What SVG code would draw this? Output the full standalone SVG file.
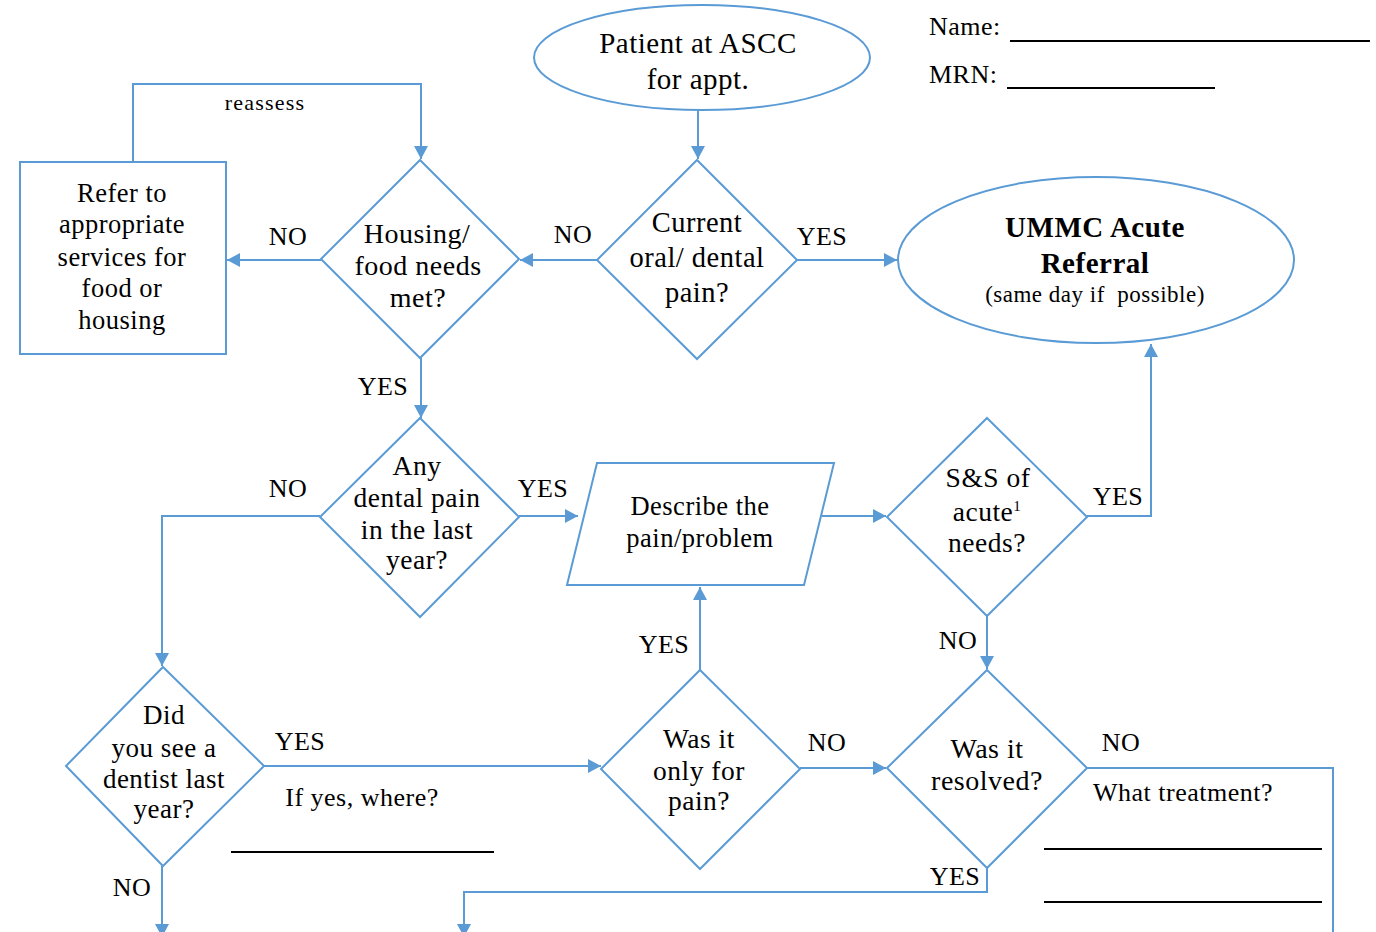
<svg xmlns="http://www.w3.org/2000/svg" width="1376" height="932" viewBox="0 0 1376 932">
<defs>
<marker id="arr" markerUnits="userSpaceOnUse" markerWidth="14" markerHeight="14" refX="13" refY="7" orient="auto">
<path d="M0,0 L13,7 L0,14 z" fill="#5B9BD5"/>
</marker>
<style>
.shape{fill:#fff;stroke:#5B9BD5;stroke-width:2}
.conn{fill:none;stroke:#5B9BD5;stroke-width:2}
text{font-family:'Liberation Serif','Times New Roman',serif}
.t{font-size:26px;letter-spacing:0.5px;fill:#000;text-anchor:middle}
.lbl{font-size:26px;letter-spacing:0.5px;fill:#000;text-anchor:middle}
.sm{font-size:22px;letter-spacing:1.2px}
.b{font-weight:bold}
.rule{stroke:#000;stroke-width:2}
</style>
</defs>
<rect width="1376" height="932" fill="#fff"/>

<g id="header">
<text class="t" x="929" y="35" style="text-anchor:start">Name:</text>
<line class="rule" x1="1010" y1="41" x2="1370" y2="41"/>
<text class="t" x="929" y="83" style="text-anchor:start">MRN:</text>
<line class="rule" x1="1007" y1="88" x2="1215" y2="88"/>
</g>

<g id="connectors">
<path class="conn" d="M698,110 V159" marker-end="url(#arr)"/>
<path class="conn" d="M597,260 H520" marker-end="url(#arr)"/>
<path class="conn" d="M321,260 H227" marker-end="url(#arr)"/>
<path class="conn" d="M796,260 H897" marker-end="url(#arr)"/>
<path class="conn" d="M133,162 V84 H421 V159" marker-end="url(#arr)"/>
<path class="conn" d="M421,358 V418" marker-end="url(#arr)"/>
<path class="conn" d="M320,516 H162 V666" marker-end="url(#arr)"/>
<path class="conn" d="M519,516 H578" marker-end="url(#arr)"/>
<path class="conn" d="M822,516 H886" marker-end="url(#arr)"/>
<path class="conn" d="M1087,516 H1151 V344" marker-end="url(#arr)"/>
<path class="conn" d="M987,616 V669" marker-end="url(#arr)"/>
<path class="conn" d="M1087,768 H1333 V940"/>
<path class="conn" d="M987,868 V892 H464 V937" marker-end="url(#arr)"/>
<path class="conn" d="M264,766 H601" marker-end="url(#arr)"/>
<path class="conn" d="M700,670 V587" marker-end="url(#arr)"/>
<path class="conn" d="M800,768 H886" marker-end="url(#arr)"/>
<path class="conn" d="M162,866 V937" marker-end="url(#arr)"/>
<text class="lbl sm" x="265" y="110">reassess</text>
<text class="lbl" x="288" y="245">NO</text>
<text class="lbl" x="573" y="243">NO</text>
<text class="lbl" x="822" y="245">YES</text>
<text class="lbl" x="383" y="395">YES</text>
<text class="lbl" x="288" y="497">NO</text>
<text class="lbl" x="543" y="497">YES</text>
<text class="lbl" x="1118" y="505">YES</text>
<text class="lbl" x="958" y="649">NO</text>
<text class="lbl" x="664" y="653">YES</text>
<text class="lbl" x="827" y="751">NO</text>
<text class="lbl" x="1121" y="751">NO</text>
<text class="lbl" x="955" y="885">YES</text>
<text class="lbl" x="300" y="750">YES</text>
<text class="lbl" x="132" y="896">NO</text>
<text class="lbl" x="362" y="806">If yes, where?</text>
<line class="rule" x1="231" y1="852" x2="494" y2="852"/>
<text class="lbl" x="1183" y="801">What treatment?</text>
<line class="rule" x1="1044" y1="849" x2="1322" y2="849"/>
<line class="rule" x1="1044" y1="902" x2="1322" y2="902"/>
</g>

<g id="start">
<ellipse class="shape" cx="702" cy="57.5" rx="168" ry="52.5"/>
<text class="t" x="698" y="53" style="font-size:29px">Patient at ASCC</text>
<text class="t" x="698" y="89" style="font-size:29px">for appt.</text>
</g>

<g id="current-pain" style="font-size:28.5px">
<polygon class="shape" points="697,160 797,260 697,359 597,260"/>
<text class="t" x="697" y="232" style="font-size:28.5px">Current</text>
<text class="t" x="697" y="267" style="font-size:28.5px">oral/ dental</text>
<text class="t" x="697" y="302" style="font-size:28.5px">pain?</text>
</g>

<g id="housing">
<polygon class="shape" points="420,160 519,259 420,358 321,259"/>
<text class="t" x="417" y="243" style="font-size:28px">Housing/</text>
<text class="t" x="418" y="275" style="font-size:28px">food needs</text>
<text class="t" x="418" y="307" style="font-size:28px">met?</text>
</g>

<g id="refer">
<rect class="shape" x="20" y="162" width="206" height="192"/>
<text class="t" x="122" y="202" style="font-size:26.5px">Refer to</text>
<text class="t" x="122" y="233" style="font-size:26.5px">appropriate</text>
<text class="t" x="122" y="266" style="font-size:26.5px">services for</text>
<text class="t" x="122" y="297" style="font-size:26.5px">food or</text>
<text class="t" x="122" y="329" style="font-size:26.5px">housing</text>
</g>

<g id="ummc">
<ellipse class="shape" cx="1096" cy="260" rx="198" ry="83"/>
<text class="t b" x="1095" y="237" style="font-size:29px">UMMC Acute</text>
<text class="t b" x="1095" y="273" style="font-size:29px">Referral</text>
<text class="t" x="1095" y="302" style="font-size:23px" xml:space="preserve">(same day if  possible)</text>
</g>

<g id="any-pain">
<polygon class="shape" points="420,418 519,517 420,617 320,517"/>
<text class="t" x="417" y="475" style="font-size:27.5px">Any</text>
<text class="t" x="417" y="507" style="font-size:27.5px">dental pain</text>
<text class="t" x="417" y="539" style="font-size:27.5px">in the last</text>
<text class="t" x="417" y="569" style="font-size:27.5px">year?</text>
</g>

<g id="describe">
<polygon class="shape" points="597,463 834,463 804,585 567,585"/>
<text class="t" x="700" y="515" style="font-size:26.5px">Describe the</text>
<text class="t" x="700" y="547" style="font-size:26.5px">pain/problem</text>
</g>

<g id="acute-needs">
<polygon class="shape" points="987,418 1087,517 987,616 887,517"/>
<text class="t" x="988" y="487" style="font-size:27.5px">S&amp;S of</text>
<text class="t" x="987" y="521" style="font-size:27.5px">acute<tspan font-size="15" dy="-10">1</tspan></text>
<text class="t" x="987" y="552" style="font-size:27.5px">needs?</text>
</g>

<g id="resolved">
<polygon class="shape" points="987,670 1087,768 987,868 887,768"/>
<text class="t" x="987" y="758" style="font-size:28px">Was it</text>
<text class="t" x="987" y="790" style="font-size:28px">resolved?</text>
</g>

<g id="only-pain">
<polygon class="shape" points="700,670 800,769 700,869 601,769"/>
<text class="t" x="699" y="748" style="font-size:27.5px">Was it</text>
<text class="t" x="699" y="780" style="font-size:27.5px">only for</text>
<text class="t" x="699" y="810" style="font-size:27.5px">pain?</text>
</g>

<g id="saw-dentist">
<polygon class="shape" points="163,667 264,766 163,866 66,766"/>
<text class="t" x="164" y="724" style="font-size:27px">Did</text>
<text class="t" x="164" y="757" style="font-size:27px">you see a</text>
<text class="t" x="164" y="788" style="font-size:27px">dentist last</text>
<text class="t" x="164" y="818" style="font-size:27px">year?</text>
</g>
</svg>
